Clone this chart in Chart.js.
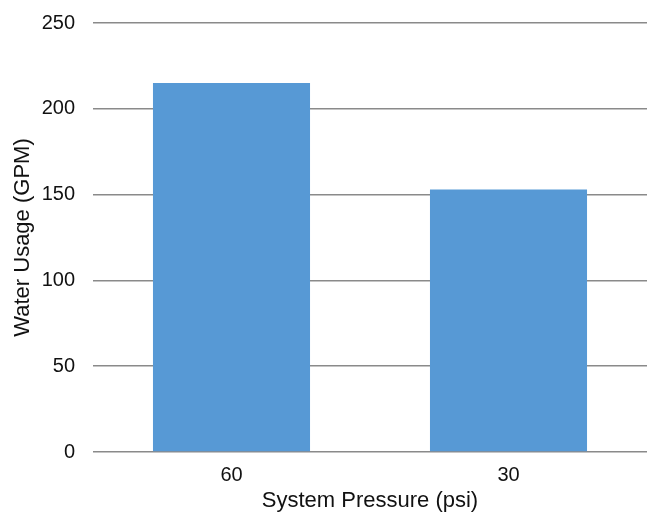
<!DOCTYPE html>
<html>
<head>
<meta charset="utf-8">
<script src="https://cdn.jsdelivr.net/npm/chart.js@4"></script>
<style>
  html, body { margin: 0; padding: 0; background: #fff; }
  #wrap { width: 648px; height: 514px; }
</style>
</head>
<body>
<div id="wrap"><canvas id="usageChart" width="648" height="514"></canvas></div>
<script>
const pressureLabels = ["60", "30"];
const waterUsage = [215, 153];
const yTicks = [0, 50, 100, 150, 200, 250];

const FONT = "'Liberation Sans', Arial, Helvetica, sans-serif";

const ctx = document.getElementById("usageChart").getContext("2d");

new Chart(ctx, {
  type: "bar",
  data: {
    labels: pressureLabels,
    datasets: [{
      label: "Water Usage (GPM)",
      data: waterUsage,
      backgroundColor: "#5799d5",
      borderWidth: 0,
      barPercentage: 0.567,
      categoryPercentage: 1.0
    }]
  },
  options: {
    responsive: false,
    animation: false,
    layout: { padding: { top: 23, right: 1, left: 0, bottom: 0 } },
    plugins: {
      legend: { display: false },
      tooltip: { enabled: false }
    },
    scales: {
      x: {
        grid: { display: false },
        border: { display: false },
        ticks: {
          color: "#111",
          font: { family: FONT, size: 20 },
          padding: 3
        },
        title: {
          display: true,
          text: "System Pressure (psi)",
          color: "#111",
          font: { family: FONT, size: 22 },
          padding: { top: 0, bottom: 0 }
        },
        afterFit: scale => { scale.height = 62; }
      },
      y: {
        min: 0,
        max: 250,
        afterBuildTicks: scale => {
          scale.ticks = yTicks.map(v => ({ value: v }));
        },
        grid: {
          color: "#8a8a8a",
          lineWidth: 1.5,
          drawTicks: false
        },
        border: { display: false },
        ticks: {
          color: "#111",
          font: { family: FONT, size: 20 },
          padding: 18
        },
        title: {
          display: true,
          text: "Water Usage (GPM)",
          color: "#111",
          font: { family: FONT, size: 22 },
          padding: { top: 10, bottom: 0 }
        },
        afterFit: scale => {
          scale.width = 93;
          scale.paddingTop = 0;
          scale.paddingBottom = 0;
        }
      }
    }
  }
});
</script>
</body>
</html>
